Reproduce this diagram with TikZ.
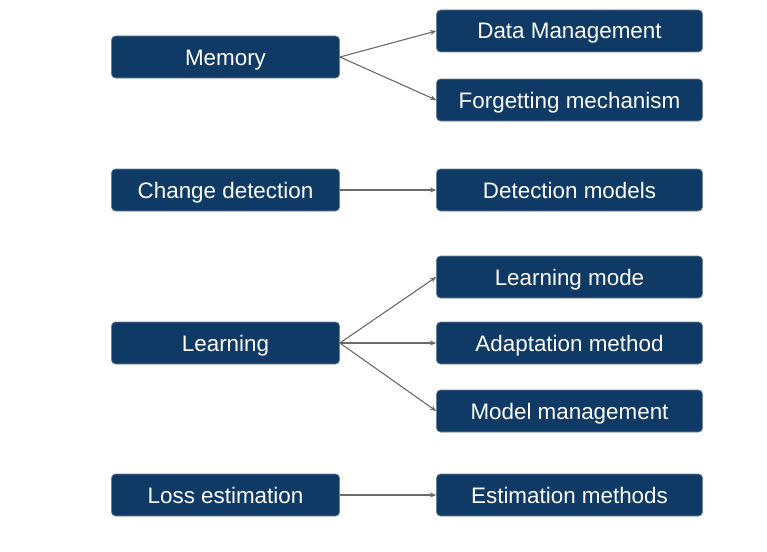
\documentclass[tikz,border=0pt]{standalone}
\usepackage{fontspec}
\setmainfont{Liberation Sans}
\usetikzlibrary{arrows.meta}
\definecolor{boxblue}{HTML}{0F3A66}
\definecolor{boxedge}{HTML}{6E8298}
\definecolor{linkgray}{HTML}{6A6A6A}
\tikzset{
  catbox/.style={draw=boxedge, line width=0.7pt, fill=boxblue, rounded corners=4pt,
    minimum width=228pt, minimum height=42pt, inner sep=0pt, text=white,
    text height=18pt, text depth=2pt,
    font=\fontsize{22.4}{26}\selectfont},
  subbox/.style={catbox, minimum width=266pt},
  link/.style={draw=linkgray, line width=1.1pt, -{Stealth[length=6pt,width=5pt]}}
}
\begin{document}
\begin{tikzpicture}[x=1pt,y=-1pt]
\useasboundingbox (0,0) rectangle (767,551);
% left column: categories
\node[catbox] (mem)  at (225.5,57)  {Memory};
\node[catbox] (chg)  at (225.5,190) {Change detection};
\node[catbox] (lrn)  at (225.5,343) {Learning};
\node[catbox] (loss) at (225.5,495) {Loss estimation};
% right column: components
\node[subbox] (data) at (569.5,31)  {Data Management};
\node[subbox] (forg) at (569.5,100) {Forgetting mechanism};
\node[subbox] (det)  at (569.5,190) {Detection models};
\node[subbox] (mode) at (569.5,277) {Learning mode};
\node[subbox] (adap) at (569.5,343) {Adaptation method};
\node[subbox] (mman) at (569.5,411) {Model management};
\node[subbox] (est)  at (569.5,495) {Estimation methods};
% connectors
\draw[link] (mem.east) -- (data.west);
\draw[link] (mem.east) -- (forg.west);
\draw[link] (chg.east) -- (det.west);
\draw[link] (lrn.east) -- (mode.west);
\draw[link] (lrn.east) -- (adap.west);
\draw[link] (lrn.east) -- (mman.west);
\draw[link] (loss.east) -- (est.west);
\end{tikzpicture}
\end{document}
